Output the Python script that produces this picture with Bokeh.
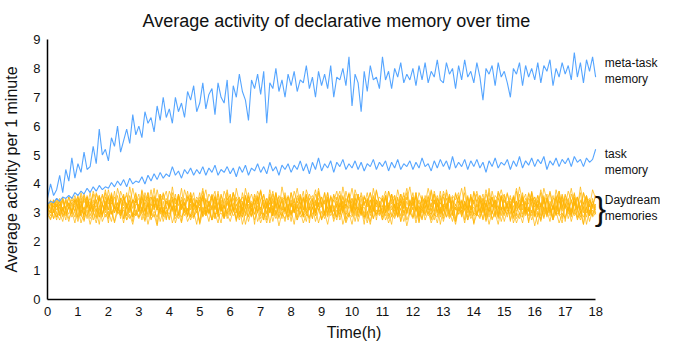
import numpy as np
from bokeh.plotting import figure
from bokeh.models import Range1d, FixedTicker, ColumnDataSource
from bokeh.core.properties import value
from bokeh.embed import file_html
from bokeh.resources import INLINE

# ---- data (one value every 0.1 h from 0 to 18 h) ----
meta_task = [
    3.5, 4.0, 3.6, 3.8, 4.3, 3.7, 4.5, 4.1, 4.9, 4.2,
    4.7, 4.4, 5.1, 4.5, 4.6, 5.3, 4.7, 5.9, 5.0, 5.2,
    4.8, 5.6, 5.3, 6.0, 5.1, 5.5, 5.9, 5.4, 6.4, 5.7,
    6.0, 5.6, 6.5, 6.1, 6.3, 5.8, 6.7, 6.2, 7.0, 6.3,
    6.6, 6.1, 7.0, 6.5, 6.8, 6.3, 7.2, 6.9, 7.4, 6.5,
    6.8, 7.5, 6.6, 7.1, 7.3, 6.4, 7.5, 7.0, 6.8, 7.6,
    6.1, 7.4, 7.0, 7.8, 7.2, 6.9, 6.2, 7.6, 7.3, 7.8,
    7.1, 7.9, 6.1, 7.5, 7.3, 8.0, 7.2, 7.6, 7.0, 7.8,
    7.4, 7.9, 7.2, 7.6, 7.5, 8.1, 7.3, 7.7, 7.0, 7.9,
    7.4, 7.8, 7.3, 8.1, 7.0, 7.7, 7.6, 8.0, 7.4, 8.4,
    6.7, 7.8, 7.5, 6.5, 7.9, 7.2, 8.1, 7.6, 7.7, 7.3,
    8.4, 7.6, 7.9, 7.3, 8.0, 7.7, 8.2, 7.5, 7.8, 7.6,
    8.0, 7.4, 8.1, 7.6, 8.2, 7.5, 7.9, 7.7, 8.3, 7.6,
    7.5, 8.2, 7.8, 8.0, 7.3, 8.1, 7.6, 8.3, 7.7, 7.9,
    7.5, 8.2, 7.7, 6.9, 8.0, 7.8, 8.1, 7.4, 8.2, 7.7,
    7.9, 7.5, 7.0, 8.0, 7.8, 8.2, 7.4, 8.1, 7.7, 8.0,
    7.6, 8.2, 7.5, 8.1, 7.9, 8.3, 7.4, 8.0, 7.7, 8.2,
    7.8, 8.1, 7.6, 8.55, 7.7, 8.2, 7.5, 8.3, 7.9, 8.4,
    7.7,
]

task = [
    3.3, 3.4, 3.35, 3.5, 3.4, 3.55, 3.5, 3.6, 3.5, 3.7,
    3.6, 3.75, 3.65, 3.85, 3.7, 3.9, 3.75, 3.95, 3.8, 3.9,
    3.85, 4.05, 3.9, 4.1, 3.95, 4.15, 3.9, 4.2, 4.0, 4.1,
    4.05, 4.25, 4.0, 4.3, 4.1, 4.35, 4.15, 4.4, 4.2, 4.35,
    4.25, 4.6, 4.3, 4.45, 4.2, 4.5, 4.35, 4.55, 4.3, 4.5,
    4.35, 4.6, 4.3, 4.55, 4.4, 4.65, 4.3, 4.5, 4.4, 4.6,
    4.35, 4.55, 4.25, 4.6, 4.4, 4.65, 4.3, 4.55, 4.45, 4.7,
    4.4, 4.6, 4.35, 4.75, 4.45, 4.6, 4.3, 4.65, 4.5, 4.7,
    4.4, 4.65, 4.5, 4.8, 4.45, 4.7, 4.35, 4.75, 4.5, 4.9,
    4.45, 4.7, 4.55, 4.8, 4.4, 4.75, 4.6, 4.85, 4.5, 4.7,
    4.55, 4.8, 4.5, 4.75, 4.45, 4.7, 4.6, 4.85, 4.5, 4.75,
    4.6, 4.8, 4.45, 4.75, 4.55, 4.85, 4.5, 4.7, 4.6, 4.8,
    4.5, 4.75, 4.55, 4.9, 4.6, 4.7, 4.45, 4.8, 4.55, 4.85,
    4.6, 4.8, 4.5, 4.95, 4.55, 4.75, 4.6, 4.85, 4.5, 4.8,
    4.6, 4.85, 4.55, 4.75, 4.4, 4.8, 4.6, 4.9, 4.55, 4.75,
    4.65, 4.85, 4.5, 4.8, 4.6, 4.95, 4.55, 4.8, 4.65, 4.9,
    4.6, 4.85, 4.7, 4.95, 4.5, 4.8, 4.65, 4.9, 4.6, 4.85,
    4.7, 4.9, 4.6, 4.95, 4.75, 4.85, 4.6, 4.9, 4.75, 4.85,
    5.2,
]

daydream_1 = [
    2.9, 3.1, 2.8, 3.0, 2.75, 3.15, 2.9, 3.2, 2.85, 3.05,
    2.7, 3.1, 2.95, 3.25, 2.8, 3.0, 2.65, 3.15, 2.9, 3.3,
    2.85, 3.05, 2.7, 3.2, 2.95, 3.1, 2.75, 3.25, 2.9, 3.0,
    2.8, 3.2, 2.9, 3.35, 2.75, 3.05, 2.85, 3.2, 2.7, 3.1,
    2.95, 3.25, 2.8, 3.0, 2.65, 3.15, 2.9, 3.3, 2.85, 3.05,
    2.7, 3.2, 2.95, 3.1, 2.75, 3.25, 2.9, 3.0, 2.8, 3.15,
    2.9, 3.35, 2.75, 3.05, 2.85, 3.2, 2.7, 3.1, 2.95, 3.25,
    2.8, 3.0, 2.65, 3.15, 2.9, 3.3, 2.85, 3.05, 2.7, 3.2,
    2.95, 3.1, 2.75, 3.25, 2.9, 3.0, 2.8, 3.2, 2.9, 3.35,
    2.75, 3.05, 2.85, 3.2, 2.7, 3.1, 2.95, 3.25, 2.8, 3.0,
    2.6, 3.15, 2.9, 3.3, 2.85, 3.05, 2.7, 3.2, 2.95, 3.1,
    2.75, 3.25, 2.9, 3.0, 2.8, 3.15, 2.9, 3.35, 2.75, 3.05,
    2.85, 3.2, 2.7, 3.1, 2.95, 3.25, 2.8, 3.0, 2.65, 3.15,
    2.9, 3.3, 2.85, 3.05, 2.7, 3.2, 2.95, 3.1, 2.75, 3.25,
    2.9, 3.0, 2.8, 3.2, 2.9, 3.35, 2.75, 3.05, 2.85, 3.2,
    2.7, 3.1, 2.95, 3.25, 2.8, 3.0, 2.65, 3.15, 2.9, 3.3,
    2.85, 3.05, 2.7, 3.2, 2.95, 3.1, 2.75, 3.25, 2.9, 3.0,
    2.8, 3.15, 2.9, 3.35, 2.75, 3.05, 2.85, 3.2, 2.7, 3.1,
    2.95,
]

daydream_2 = [
    3.1, 2.9, 3.25, 3.0, 3.4, 2.85, 3.15, 2.95, 3.3, 3.05,
    3.45, 2.9, 3.2, 2.8, 3.35, 3.0, 3.15, 2.85, 3.3, 3.1,
    3.5, 2.95, 3.2, 3.0, 3.4, 2.8, 3.25, 3.05, 3.45, 2.9,
    3.15, 3.0, 3.35, 2.85, 3.3, 3.1, 3.5, 2.95, 3.2, 2.75,
    3.4, 3.05, 3.25, 2.9, 3.45, 3.0, 3.15, 2.85, 3.35, 3.1,
    3.3, 2.9, 3.5, 3.0, 3.2, 2.8, 3.4, 3.05, 3.25, 2.95,
    3.45, 3.1, 3.15, 2.85, 3.35, 3.0, 3.3, 2.9, 3.5, 3.05,
    3.2, 2.75, 3.4, 3.0, 3.25, 2.9, 3.45, 3.1, 3.15, 2.85,
    3.35, 3.05, 3.3, 2.95, 3.5, 3.0, 3.2, 2.8, 3.4, 3.1,
    3.25, 2.9, 3.45, 3.0, 3.15, 2.85, 3.35, 3.05, 3.3, 2.9,
    3.5, 3.1, 3.2, 2.95, 3.4, 3.0, 3.25, 2.8, 3.45, 3.05,
    3.15, 2.9, 3.35, 3.1, 3.3, 2.85, 3.5, 3.0, 3.2, 2.95,
    3.4, 3.05, 3.25, 2.75, 3.45, 3.1, 3.15, 2.9, 3.35, 3.0,
    3.3, 2.85, 3.5, 3.05, 3.2, 2.95, 3.4, 3.1, 3.25, 2.9,
    3.45, 3.0, 3.15, 2.8, 3.35, 3.05, 3.3, 2.9, 3.5, 3.1,
    3.2, 2.85, 3.4, 3.0, 3.25, 2.95, 3.45, 3.05, 3.15, 2.9,
    3.35, 3.1, 3.3, 2.8, 3.5, 3.0, 3.2, 2.9, 3.4, 3.05,
    3.25, 2.95, 3.45, 3.1, 3.15, 2.85, 3.35, 3.0, 3.3, 2.9,
    3.2,
]

daydream_3 = [
    3.2, 3.45, 3.0, 3.3, 2.9, 3.55, 3.1, 3.35, 2.95, 3.5,
    3.15, 3.4, 2.85, 3.6, 3.05, 3.3, 3.2, 3.55, 2.95, 3.4,
    3.1, 3.6, 3.0, 3.35, 2.9, 3.5, 3.15, 3.45, 2.85, 3.3,
    3.25, 3.6, 3.05, 3.4, 2.95, 3.55, 3.1, 3.3, 3.0, 3.5,
    3.2, 3.45, 2.9, 3.6, 3.15, 3.35, 2.85, 3.5, 3.05, 3.4,
    3.25, 3.55, 2.95, 3.3, 3.1, 3.6, 3.0, 3.45, 2.9, 3.35,
    3.2, 3.5, 3.05, 3.4, 2.85, 3.55, 3.15, 3.3, 2.95, 3.6,
    3.1, 3.45, 3.0, 3.35, 2.9, 3.5, 3.2, 3.4, 3.05, 3.55,
    2.95, 3.3, 3.15, 3.6, 2.85, 3.45, 3.1, 3.35, 3.0, 3.5,
    3.25, 3.4, 2.9, 3.55, 3.05, 3.3, 3.2, 3.6, 2.95, 3.45,
    3.1, 3.35, 3.0, 3.5, 2.85, 3.4, 3.15, 3.55, 2.95, 3.3,
    3.2, 3.6, 3.05, 3.45, 2.9, 3.35, 3.1, 3.5, 3.0, 3.4,
    3.25, 3.55, 2.85, 3.3, 3.15, 3.6, 2.95, 3.45, 3.05, 3.35,
    3.2, 3.5, 2.9, 3.4, 3.1, 3.55, 3.0, 3.3, 3.15, 3.6,
    2.95, 3.45, 3.05, 3.35, 2.85, 3.5, 3.2, 3.4, 2.9, 3.55,
    3.1, 3.3, 3.0, 3.6, 3.15, 3.45, 2.95, 3.35, 3.05, 3.5,
    3.2, 3.4, 2.9, 3.55, 3.1, 3.3, 2.85, 3.6, 3.0, 3.45,
    3.15, 3.35, 2.95, 3.5, 3.05, 3.4, 3.2, 3.55, 2.9, 3.3,
    3.1,
]

daydream_4 = [
    3.3, 3.1, 3.45, 3.2, 3.5, 3.05, 3.4, 3.15, 3.55, 3.25,
    3.6, 3.0, 3.5, 3.2, 3.7, 3.1, 3.45, 2.95, 3.65, 3.3,
    3.55, 3.15, 3.75, 3.05, 3.5, 3.25, 3.7, 3.1, 3.45, 3.35,
    3.65, 3.0, 3.6, 3.2, 3.8, 3.15, 3.5, 3.05, 3.7, 3.3,
    3.45, 3.1, 3.65, 2.95, 3.55, 3.25, 3.75, 3.1, 3.5, 3.2,
    3.7, 3.0, 3.45, 3.3, 3.6, 3.15, 3.75, 3.05, 3.5, 3.25,
    3.65, 3.1, 3.55, 2.95, 3.7, 3.2, 3.45, 3.05, 3.6, 3.3,
    3.75, 3.15, 3.5, 3.0, 3.65, 3.25, 3.55, 3.1, 3.7, 3.2,
    3.45, 3.05, 3.6, 3.3, 3.75, 3.0, 3.5, 3.15, 3.65, 3.25,
    3.55, 2.95, 3.7, 3.1, 3.45, 3.2, 3.6, 3.05, 3.75, 3.3,
    3.5, 3.15, 3.65, 3.0, 3.55, 3.25, 3.7, 3.1, 3.45, 3.2,
    3.6, 3.05, 3.75, 3.3, 3.5, 2.95, 3.65, 3.15, 3.55, 3.25,
    3.7, 3.1, 3.45, 3.0, 3.6, 3.2, 3.75, 3.05, 3.5, 3.3,
    3.65, 3.15, 3.55, 2.95, 3.7, 3.25, 3.45, 3.1, 3.6, 3.0,
    3.75, 3.2, 3.5, 3.05, 3.65, 3.3, 3.55, 3.15, 3.7, 3.1,
    3.45, 3.25, 3.6, 3.0, 3.75, 3.2, 3.5, 3.05, 3.65, 3.3,
    3.55, 3.15, 3.7, 2.95, 3.45, 3.25, 3.6, 3.1, 3.75, 3.2,
    3.5, 3.05, 3.65, 3.3, 3.55, 3.0, 3.7, 3.15, 3.45, 3.25,
    3.6,
]

daydream_5 = [
    3.0, 3.3, 2.8, 3.4, 2.9, 3.2, 2.75, 3.35, 3.0, 3.25,
    2.85, 3.5, 2.7, 3.3, 3.05, 3.45, 2.8, 3.6, 2.95, 3.2,
    2.65, 3.55, 3.0, 3.35, 2.8, 3.65, 2.9, 3.25, 2.7, 3.5,
    3.05, 3.4, 2.75, 3.7, 2.9, 3.3, 2.6, 3.55, 3.0, 3.2,
    2.8, 3.45, 2.95, 3.65, 2.7, 3.35, 3.05, 3.5, 2.85, 3.25,
    2.65, 3.6, 2.9, 3.4, 2.75, 3.55, 3.0, 3.3, 2.8, 3.7,
    2.95, 3.2, 2.7, 3.45, 3.05, 3.6, 2.85, 3.35, 2.6, 3.5,
    2.9, 3.25, 2.75, 3.65, 3.0, 3.4, 2.8, 3.55, 2.95, 3.3,
    2.7, 3.5, 3.05, 3.2, 2.85, 3.6, 2.65, 3.45, 2.9, 3.35,
    2.75, 3.7, 3.0, 3.25, 2.8, 3.55, 2.95, 3.4, 2.7, 3.3,
    3.05, 3.65, 2.85, 3.2, 2.6, 3.5, 2.9, 3.45, 2.75, 3.35,
    3.0, 3.6, 2.8, 3.25, 2.95, 3.55, 2.7, 3.4, 3.05, 3.3,
    2.85, 3.7, 2.65, 3.5, 2.9, 3.2, 2.75, 3.45, 3.0, 3.6,
    2.8, 3.35, 2.95, 3.55, 2.7, 3.25, 3.05, 3.4, 2.85, 3.65,
    2.6, 3.3, 2.9, 3.5, 2.75, 3.2, 3.0, 3.45, 2.8, 3.6,
    2.95, 3.35, 2.7, 3.55, 3.05, 3.25, 2.85, 3.4, 2.65, 3.7,
    2.9, 3.3, 2.75, 3.5, 3.0, 3.2, 2.8, 3.45, 2.95, 3.6,
    2.7, 3.35, 3.05, 3.55, 2.85, 3.25, 2.6, 3.4, 2.9, 3.5,
    3.0,
]

daydream_6 = [
    3.2, 3.4, 3.1, 3.5, 3.25, 3.45, 3.15, 3.55, 3.3, 3.6,
    3.2, 3.7, 3.35, 3.55, 3.1, 3.75, 3.4, 3.6, 3.25, 3.8,
    3.3, 3.65, 3.15, 3.85, 3.45, 3.6, 3.2, 3.9, 3.35, 3.7,
    3.05, 3.8, 3.4, 3.55, 3.25, 3.85, 3.15, 3.65, 3.45, 3.75,
    3.2, 3.9, 3.3, 3.6, 3.1, 3.8, 3.4, 3.7, 3.25, 3.55,
    3.35, 3.85, 3.15, 3.65, 3.45, 3.75, 3.0, 3.6, 3.3, 3.8,
    3.2, 3.7, 3.4, 3.55, 3.1, 3.85, 3.35, 3.65, 3.25, 3.75,
    3.45, 3.6, 3.15, 3.8, 3.3, 3.7, 3.05, 3.9, 3.4, 3.55,
    3.2, 3.75, 3.35, 3.65, 3.1, 3.8, 3.45, 3.6, 3.25, 3.85,
    3.3, 3.7, 3.15, 3.55, 3.4, 3.75, 3.2, 3.9, 3.35, 3.65,
    3.05, 3.8, 3.45, 3.6, 3.25, 3.7, 3.1, 3.85, 3.3, 3.55,
    3.4, 3.75, 3.2, 3.65, 3.15, 3.8, 3.35, 3.6, 3.45, 3.9,
    3.25, 3.7, 3.1, 3.55, 3.3, 3.85, 3.4, 3.65, 3.2, 3.75,
    3.05, 3.8, 3.35, 3.6, 3.45, 3.7, 3.15, 3.9, 3.25, 3.55,
    3.4, 3.75, 3.3, 3.65, 3.1, 3.85, 3.2, 3.6, 3.45, 3.8,
    3.35, 3.7, 3.15, 3.55, 3.25, 3.9, 3.4, 3.65, 3.05, 3.75,
    3.3, 3.6, 3.2, 3.85, 3.45, 3.7, 3.1, 3.8, 3.35, 3.55,
    3.25, 3.75, 3.4, 3.65, 3.15, 3.9, 3.3, 3.6, 3.2, 3.8,
    3.5,
]

daydream_7 = [
    3.0, 2.8, 3.1, 2.75, 3.2, 2.9, 3.05, 2.7, 3.15, 2.85,
    3.25, 2.65, 3.0, 2.9, 3.2, 2.75, 3.1, 2.6, 3.3, 2.85,
    3.05, 2.7, 3.2, 2.95, 3.1, 2.65, 3.25, 2.8, 3.0, 2.9,
    3.3, 2.75, 3.15, 2.6, 3.05, 2.85, 3.2, 2.7, 3.1, 2.95,
    3.25, 2.65, 3.0, 2.8, 3.3, 2.9, 3.15, 2.75, 3.05, 2.6,
    3.2, 2.85, 3.1, 2.7, 3.25, 2.95, 3.0, 2.65, 3.3, 2.8,
    3.15, 2.9, 3.05, 2.75, 3.2, 2.6, 3.1, 2.85, 3.25, 2.7,
    3.0, 2.95, 3.3, 2.65, 3.15, 2.8, 3.05, 2.9, 3.2, 2.75,
    3.1, 2.6, 3.25, 2.85, 3.0, 2.7, 3.3, 2.95, 3.15, 2.65,
    3.05, 2.8, 3.2, 2.9, 3.1, 2.75, 3.25, 2.6, 3.0, 2.85,
    3.3, 2.7, 3.15, 2.95, 3.05, 2.65, 3.2, 2.8, 3.1, 2.9,
    3.25, 2.75, 3.0, 2.6, 3.3, 2.85, 3.15, 2.7, 3.05, 2.95,
    3.2, 2.65, 3.1, 2.8, 3.25, 2.9, 3.0, 2.75, 3.3, 2.6,
    3.15, 2.85, 3.05, 2.7, 3.2, 2.95, 3.1, 2.65, 3.25, 2.8,
    3.0, 2.9, 3.3, 2.75, 3.15, 2.6, 3.05, 2.85, 3.2, 2.7,
    3.1, 2.95, 3.25, 2.65, 3.0, 2.8, 3.3, 2.9, 3.15, 2.75,
    3.05, 2.6, 3.2, 2.85, 3.1, 2.7, 3.25, 2.95, 3.0, 2.65,
    3.3, 2.8, 3.15, 2.9, 3.05, 2.75, 3.2, 2.6, 3.1, 2.85,
    3.0,
]

daydream_8 = [
    3.1, 3.35, 3.2, 3.5, 3.0, 3.4, 3.15, 3.55, 3.05, 3.45,
    3.25, 3.6, 2.95, 3.4, 3.2, 3.65, 3.05, 3.5, 3.3, 3.7,
    2.9, 3.45, 3.15, 3.6, 3.0, 3.55, 3.25, 3.4, 2.85, 3.65,
    3.1, 3.5, 3.3, 3.7, 3.0, 3.45, 3.2, 3.6, 2.95, 3.4,
    3.15, 3.55, 3.05, 3.65, 3.25, 3.5, 2.9, 3.7, 3.1, 3.45,
    3.3, 3.6, 3.0, 3.4, 3.2, 3.55, 2.85, 3.65, 3.15, 3.5,
    3.05, 3.7, 3.25, 3.45, 2.95, 3.6, 3.1, 3.4, 3.3, 3.55,
    3.0, 3.65, 3.2, 3.5, 2.9, 3.7, 3.15, 3.45, 3.05, 3.6,
    3.25, 3.4, 2.85, 3.55, 3.1, 3.65, 3.3, 3.5, 3.0, 3.7,
    3.2, 3.45, 2.95, 3.6, 3.15, 3.4, 3.05, 3.55, 3.25, 3.65,
    2.9, 3.5, 3.1, 3.7, 3.3, 3.45, 3.0, 3.6, 3.2, 3.4,
    2.85, 3.55, 3.15, 3.65, 3.05, 3.5, 3.25, 3.7, 2.95, 3.45,
    3.1, 3.6, 3.3, 3.4, 3.0, 3.55, 3.2, 3.65, 2.9, 3.5,
    3.15, 3.7, 3.05, 3.45, 3.25, 3.6, 2.85, 3.4, 3.1, 3.55,
    3.3, 3.65, 3.0, 3.5, 3.2, 3.7, 2.95, 3.45, 3.15, 3.6,
    3.05, 3.4, 3.25, 3.55, 2.9, 3.65, 3.1, 3.5, 3.3, 3.7,
    3.0, 3.45, 3.2, 3.6, 2.85, 3.4, 3.15, 3.55, 3.05, 3.65,
    3.25, 3.5, 2.95, 3.7, 3.1, 3.45, 3.3, 3.6, 3.0, 3.4,
    3.2,
]

daydream_9 = [
    3.15, 3.0, 3.35, 2.85, 3.25, 3.5, 2.95, 3.2, 3.05, 3.45,
    2.8, 3.3, 3.1, 3.55, 2.9, 3.2, 3.4, 2.85, 3.3, 3.0,
    3.6, 2.95, 3.25, 3.1, 3.5, 2.8, 3.35, 3.0, 3.45, 3.15,
    2.85, 3.55, 3.05, 3.3, 2.9, 3.6, 3.2, 3.0, 3.4, 2.8,
    3.35, 3.1, 3.5, 2.95, 3.25, 3.05, 3.55, 2.85, 3.3, 3.15,
    3.45, 2.9, 3.2, 3.0, 3.6, 2.8, 3.35, 3.1, 3.25, 2.95,
    3.5, 3.05, 3.3, 2.85, 3.4, 3.15, 3.55, 2.9, 3.2, 3.0,
    3.45, 2.75, 3.35, 3.1, 3.5, 2.95, 3.25, 3.05, 3.6, 2.85,
    3.3, 3.0, 3.4, 3.15, 3.55, 2.9, 3.2, 2.8, 3.45, 3.1,
    3.35, 2.95, 3.5, 3.05, 3.25, 2.85, 3.6, 3.0, 3.3, 3.15,
    3.4, 2.9, 3.55, 3.1, 3.2, 2.8, 3.45, 3.05, 3.35, 2.95,
    3.5, 3.0, 3.25, 2.85, 3.6, 3.15, 3.3, 2.9, 3.4, 3.05,
    3.55, 2.8, 3.2, 3.1, 3.45, 2.95, 3.35, 3.0, 3.5, 2.85,
    3.25, 3.15, 3.6, 2.9, 3.3, 3.05, 3.4, 2.75, 3.55, 3.1,
    3.2, 2.95, 3.45, 3.0, 3.35, 2.85, 3.5, 3.15, 3.25, 2.9,
    3.6, 3.05, 3.3, 2.8, 3.4, 3.1, 3.55, 2.95, 3.2, 3.0,
    3.45, 2.85, 3.35, 3.15, 3.5, 2.9, 3.25, 3.05, 3.6, 2.8,
    3.3, 3.1, 3.4, 2.95, 3.55, 3.0, 3.2, 2.85, 3.45, 3.15,
    3.3,
]

daydream_10 = [
    3.3, 3.15, 3.45, 3.2, 3.4, 3.1, 3.5, 3.25, 3.45, 3.35,
    3.55, 3.15, 3.65, 3.3, 3.5, 3.05, 3.7, 3.4, 3.6, 3.2,
    3.8, 3.3, 3.55, 3.1, 3.75, 3.45, 3.6, 3.25, 3.85, 3.35,
    3.5, 3.05, 3.7, 3.4, 3.55, 3.2, 3.8, 3.3, 3.65, 3.15,
    3.75, 3.45, 3.5, 3.25, 3.85, 3.1, 3.6, 3.35, 3.7, 3.0,
    3.55, 3.4, 3.8, 3.2, 3.65, 3.3, 3.5, 3.15, 3.75, 3.45,
    3.6, 3.05, 3.85, 3.35, 3.55, 3.25, 3.7, 3.1, 3.65, 3.4,
    3.8, 3.2, 3.5, 3.3, 3.75, 3.15, 3.6, 3.45, 3.55, 3.0,
    3.7, 3.35, 3.85, 3.25, 3.5, 3.1, 3.65, 3.4, 3.8, 3.2,
    3.55, 3.3, 3.7, 3.05, 3.6, 3.45, 3.75, 3.15, 3.5, 3.35,
    3.85, 3.25, 3.65, 3.1, 3.55, 3.4, 3.7, 3.2, 3.8, 3.3,
    3.5, 3.0, 3.75, 3.45, 3.6, 3.15, 3.65, 3.35, 3.85, 3.25,
    3.55, 3.1, 3.7, 3.4, 3.5, 3.2, 3.8, 3.3, 3.6, 3.05,
    3.75, 3.45, 3.55, 3.15, 3.65, 3.35, 3.85, 3.25, 3.5, 3.1,
    3.7, 3.4, 3.6, 3.2, 3.8, 3.3, 3.55, 3.0, 3.75, 3.45,
    3.65, 3.15, 3.5, 3.35, 3.85, 3.25, 3.6, 3.1, 3.7, 3.4,
    3.55, 3.2, 3.8, 3.3, 3.65, 3.05, 3.5, 3.45, 3.75, 3.15,
    3.6, 3.35, 3.85, 3.25, 3.55, 3.1, 3.7, 3.4, 3.5, 3.2,
    3.6,
]

daydream_11 = [
    2.95, 2.75, 3.1, 2.85, 3.0, 2.7, 3.15, 2.8, 3.05, 2.65,
    3.2, 2.9, 2.75, 3.1, 2.6, 3.0, 2.85, 3.25, 2.7, 2.95,
    2.8, 3.15, 2.65, 3.05, 2.9, 3.2, 2.75, 2.95, 2.6, 3.1,
    2.85, 3.0, 2.7, 3.25, 2.8, 2.95, 2.55, 3.15, 2.9, 3.05,
    2.75, 3.2, 2.65, 3.0, 2.85, 3.1, 2.7, 2.95, 2.8, 3.25,
    2.6, 3.05, 2.9, 3.15, 2.75, 3.0, 2.65, 3.2, 2.85, 2.95,
    2.7, 3.1, 2.8, 3.25, 2.6, 3.0, 2.9, 3.15, 2.75, 3.05,
    2.65, 2.95, 2.85, 3.2, 2.7, 3.1, 2.55, 3.0, 2.8, 3.15,
    2.9, 3.25, 2.75, 3.05, 2.65, 2.95, 2.85, 3.2, 2.7, 3.1,
    2.8, 3.0, 2.6, 3.15, 2.9, 3.25, 2.75, 3.05, 2.65, 2.95,
    2.85, 3.2, 2.7, 3.1, 2.8, 3.0, 2.6, 3.15, 2.9, 3.25,
    2.75, 3.05, 2.65, 2.95, 2.85, 3.2, 2.7, 3.1, 2.55, 3.0,
    2.8, 3.15, 2.9, 3.25, 2.75, 3.05, 2.65, 2.95, 2.85, 3.2,
    2.7, 3.1, 2.8, 3.0, 2.6, 3.15, 2.9, 3.25, 2.75, 3.05,
    2.65, 2.95, 2.85, 3.2, 2.7, 3.1, 2.8, 3.0, 2.6, 3.15,
    2.9, 3.25, 2.75, 3.05, 2.65, 2.95, 2.85, 3.2, 2.7, 3.1,
    2.55, 3.0, 2.8, 3.15, 2.9, 3.25, 2.75, 3.05, 2.65, 2.95,
    2.85, 3.2, 2.7, 3.1, 2.8, 3.0, 2.6, 3.15, 2.9, 3.25,
    2.95,
]

daydream_12 = [
    3.2, 3.0, 3.4, 3.1, 3.3, 2.95, 3.45, 3.15, 3.35, 3.05,
    3.5, 2.9, 3.6, 3.2, 3.4, 3.0, 3.65, 3.3, 2.85, 3.55,
    3.1, 3.7, 3.25, 3.0, 3.5, 3.35, 2.9, 3.6, 3.15, 3.45,
    3.05, 3.75, 3.2, 2.95, 3.55, 3.3, 3.1, 3.65, 2.85, 3.4,
    3.25, 3.7, 3.0, 3.5, 3.15, 3.35, 2.9, 3.6, 3.2, 3.45,
    3.05, 3.75, 3.3, 2.95, 3.55, 3.1, 3.65, 3.25, 2.85, 3.4,
    3.15, 3.7, 3.0, 3.5, 3.35, 2.9, 3.6, 3.2, 3.45, 3.05,
    3.75, 3.3, 2.95, 3.55, 3.1, 3.65, 3.25, 2.8, 3.4, 3.15,
    3.7, 3.0, 3.5, 3.35, 2.9, 3.6, 3.2, 3.45, 3.05, 3.75,
    3.3, 2.95, 3.55, 3.1, 3.65, 3.25, 2.85, 3.4, 3.15, 3.7,
    3.0, 3.5, 3.35, 2.9, 3.6, 3.2, 3.45, 3.05, 3.75, 3.3,
    2.95, 3.55, 3.1, 3.65, 3.25, 2.85, 3.4, 3.15, 3.7, 3.0,
    3.5, 3.35, 2.9, 3.6, 3.2, 3.45, 3.05, 3.75, 3.3, 2.95,
    3.55, 3.1, 3.65, 3.25, 2.8, 3.4, 3.15, 3.7, 3.0, 3.5,
    3.35, 2.9, 3.6, 3.2, 3.45, 3.05, 3.75, 3.3, 2.95, 3.55,
    3.1, 3.65, 3.25, 2.85, 3.4, 3.15, 3.7, 3.0, 3.5, 3.35,
    2.9, 3.6, 3.2, 3.45, 3.05, 3.75, 3.3, 2.95, 3.55, 3.1,
    3.65, 3.25, 2.85, 3.4, 3.15, 3.7, 3.0, 3.5, 3.35, 2.9,
    3.3,
]

daydream = [daydream_1, daydream_2, daydream_3, daydream_4, daydream_5, daydream_6,
            daydream_7, daydream_8, daydream_9, daydream_10, daydream_11, daydream_12]

# series names shown to the right of the curves, with the value they sit at
series_names = ["meta-task", "memory", "task", "memory", "Daydream", "memories"]
series_name_y = [8.2, 7.65, 5.05, 4.5, 3.45, 2.9]

x_ticks = list(range(0, 19))
y_ticks = list(range(0, 10))
T_START, T_END = 0, 18

FONT = "Liberation Sans"
X_MAX = 20.13  # extra room right of 18 h for the series names
NAME_X = 18.3
BRACE_X = 17.97

p = figure(width=660, height=343, output_backend="svg", toolbar_location=None,
           x_range=Range1d(0, X_MAX), y_range=Range1d(0, 9),
           min_border_left=0, min_border_right=0,
           min_border_top=0, min_border_bottom=0)
p.outline_line_color = None
p.grid.grid_line_color = None
p.background_fill_color = "white"
p.border_fill_color = "white"

p.title.text = "Average activity of declarative memory over time"
p.title.align = "left"
p.title.offset = 95
p.title.standoff = 17
p.title.text_font = FONT
p.title.text_font_size = "18px"
p.title.text_font_style = "normal"
p.title.text_color = "#111111"

def t_axis(vals):
    return np.linspace(T_START, T_END, len(vals))

for d in daydream:
    p.line(t_axis(d), d, line_color="#ffb300", line_alpha=0.7, line_width=1)

p.line(t_axis(task), task, line_color="#55a5ff", line_width=1.1)
p.line(t_axis(meta_task), meta_task, line_color="#55a5ff", line_width=1.1)

for ax in (p.xaxis[0], p.yaxis[0]):
    ax.axis_line_color = "black"
    ax.axis_line_width = 1.5
    ax.major_tick_line_color = None
    ax.minor_tick_line_color = None
    ax.major_tick_out = 0
    ax.major_tick_in = 0
    ax.minor_tick_out = 0
    ax.minor_tick_in = 0
    ax.major_label_text_font = FONT
    ax.major_label_text_font_size = "13px"
    ax.major_label_text_color = "#111111"
    ax.axis_label_text_font = FONT
    ax.axis_label_text_font_size = "16px"
    ax.axis_label_text_font_style = "normal"
    ax.axis_label_text_color = "#111111"

p.xaxis[0].bounds = (T_START, T_END)
p.xaxis[0].ticker = FixedTicker(ticks=x_ticks)
p.yaxis[0].ticker = FixedTicker(ticks=y_ticks)
p.xaxis[0].axis_label = "Time(h)"
p.yaxis[0].axis_label = "Average activity per 1 minute"
p.xaxis[0].major_label_standoff = 7
p.yaxis[0].major_label_standoff = 7
p.xaxis[0].axis_label_standoff = 5
p.yaxis[0].axis_label_standoff = 10

name_src = ColumnDataSource(dict(x=[NAME_X] * len(series_names), y=series_name_y,
                                 text=series_names))
p.text(x="x", y="y", text="text", source=name_src, text_font=value(FONT),
       text_font_size="12px", text_color="#111111", text_baseline="middle",
       text_align="left")

brace_src = ColumnDataSource(dict(x=[BRACE_X], y=[3.18], text=["}"]))
p.text(x="x", y="y", text="text", source=brace_src, text_font=value(FONT),
       text_font_size="34px", text_color="#111111", text_baseline="middle",
       text_align="left")

open("out.html", "w").write(file_html(p, INLINE))
